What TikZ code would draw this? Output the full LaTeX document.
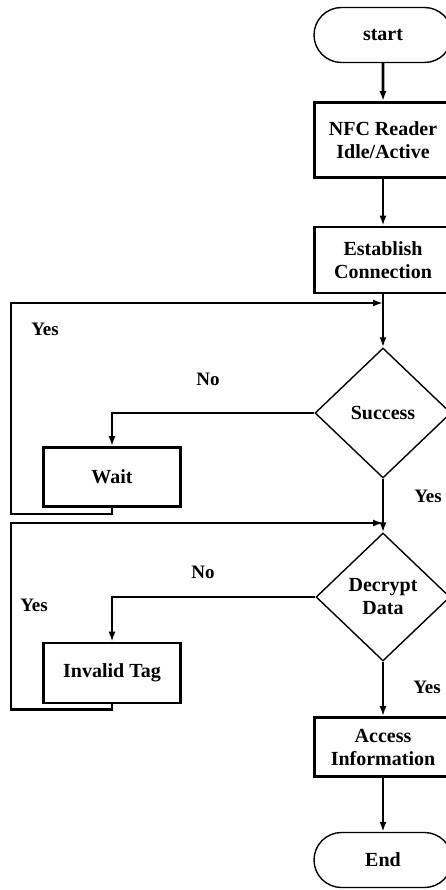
\documentclass[tikz,border=0pt]{standalone}
\usepackage{fontspec}
\setmainfont{Liberation Serif}
\usetikzlibrary{shapes.geometric,shapes.misc,arrows.meta}

\begin{document}
\begin{tikzpicture}[x=1pt,y=-1pt,
  every node/.style={font=\fontsize{20}{23}\selectfont\bfseries,align=center,inner sep=0pt},
  term/.style={draw,line width=1.4pt,shape=rounded rectangle,minimum width=138pt,minimum height=55pt},
  box/.style={draw,line width=2.6pt,shape=rectangle,minimum width=137pt},
  decide/.style={draw,line width=1.4pt,shape=diamond,minimum width=136pt,minimum height=130pt}]

  \useasboundingbox (0,0) rectangle (445,890);

  % Specification of nodes (position, etc.)
  \node[term] (start) at (383,35) {start};
  \node[box,minimum height=75pt] (nfc) at (383,140) {NFC Reader\\Idle/Active};
  \node[box,minimum height=66pt] (est) at (383,260) {Establish\\Connection};
  \node[decide] (succ) at (383,413) {Success};
  \node[box,minimum height=59pt] (wait) at (112,477) {Wait};
  \node[decide,minimum width=134pt,minimum height=128pt] (dcr) at (383,597) {Decrypt\\Data};
  \node[box,minimum height=60pt] (inv) at (112,673) {Invalid Tag};
  \node[box,minimum height=59pt] (acc) at (383,747) {Access\\Information};
  \node[term] (stop) at (383,860) {End};

  \coordinate (j1) at (383,303);
  \coordinate (j2) at (383,523);

  \begin{scope}[line width=2.6pt,-{Latex[length=10pt,width=7pt]}]
    \tikzstyle{every node}=[font=\fontsize{19}{22}\selectfont\bfseries]
    \draw (start) -- (nfc);
    \draw (nfc) -- (est);
    \draw (est) -- (succ);
    \draw (succ) -- (dcr);
    \draw (dcr) -- (acc);
    \draw (acc) -- (stop);
    \draw[line width=2pt] (succ.west) -| (wait.north);
    \draw[line width=2pt] (dcr.west) -| (inv.north);
    \draw (wait.south) |- ++(-101,6) |- (j1);
    \draw (inv.south) |- ++(-101,5) |- (j2);
    \node (yes1) at (45,329) {Yes};
    \node (no1) at (208,379) {No};
    \node (yes2) at (428,496) {Yes};
    \node (no2) at (203,572) {No};
    \node (yes3) at (34,605) {Yes};
    \node (yes4) at (427,687) {Yes};
  \end{scope}

\end{tikzpicture}
\end{document}
